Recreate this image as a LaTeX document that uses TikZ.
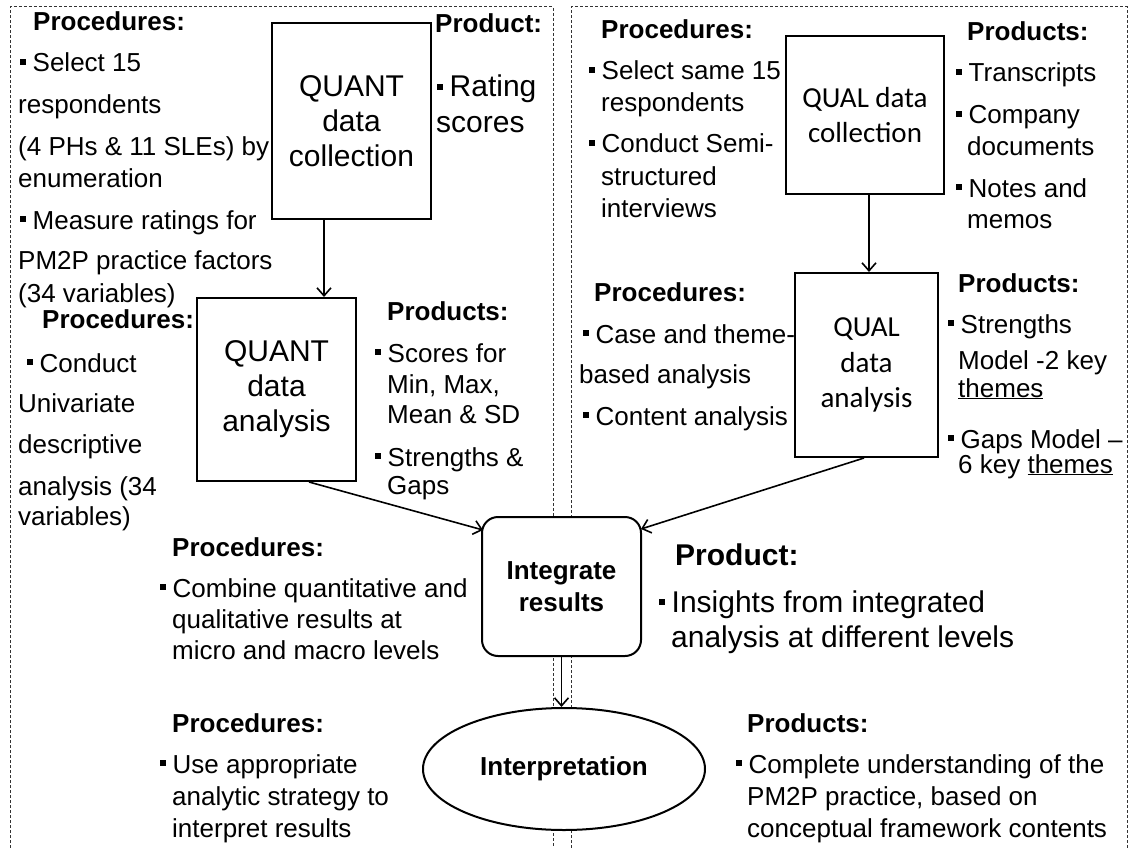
\documentclass[tikz,border=0pt]{standalone}
\usepackage{fontspec}
\setmainfont{Liberation Sans}
\newfontfamily\calfont{Carlito}
\usetikzlibrary{arrows.meta,shapes.geometric}
\newcommand\bul{\rule[7pt]{6pt}{6pt}\hspace{6.5pt}}
\tikzset{
  txt/.style={anchor=base west, inner sep=0pt, font=\fontsize{26}{30}\selectfont},
  hd/.style={txt, font=\fontsize{26}{30}\selectfont\bfseries},
  bigtxt/.style={txt, font=\fontsize{30}{35}\selectfont},
  bighd/.style={txt, font=\fontsize{30}{35}\selectfont\bfseries},
  panel/.style={draw=black!80, line width=1pt, dash pattern=on 3pt off 2pt},
  box/.style={draw, line width=2pt, fill=white, inner sep=0pt, align=center},
  quantbox/.style={box, font=\fontsize{30}{35}\selectfont},
  qualbox/.style={box, font=\calfont\fontsize{29}{35.5}\selectfont},
  arr/.style={line width=1.6pt, -{Straight Barb[length=8pt,width=14pt]}},
}
\begin{document}
\begin{tikzpicture}[x=1pt,y=-1pt]
\fill[white] (0,0) rectangle (1132,848);
\useasboundingbox (0,0) rectangle (1132,848);

% dashed panels, open at the bottom
\draw[panel] (10,848) |- (553,7) -- (553,848);
\draw[panel] (571,848) |- (1127,7) -- (1127,848);

% ---------- QUANT strand: data collection ----------
\node[hd] (pA) at (33,31) {Procedures:};
\node[txt] (a1) at (20,72) {\bul Select 15};
\node[txt] (a2) at (18,114) {respondents};
\node[txt] (a3) at (18,156) {(4 PHs \& 11 SLEs) by};
\node[txt] (a4) at (18,187) {enumeration};
\node[txt] (a5) at (20,229) {\bul Measure ratings for};
\node[txt] (a6) at (18,269) {PM2P practice factors};
\node[txt] (a7) at (18,302) {(34 variables)};

\node[quantbox, minimum width=159pt, minimum height=196pt] (qcoll) at (351.5,121) {QUANT\\data\\collection};

\node[hd] (pB) at (435,33) {Product:};
\node[bigtxt] (b1) at (437,97) {\bul Rating};
\node[bigtxt] (b2) at (436,132) {scores};

% ---------- QUANT strand: data analysis ----------
\node[hd] (pC) at (42,328) {Procedures:};
\node[txt] (c1) at (27,372) {\bul Conduct};
\node[txt] (c2) at (18,412) {Univariate};
\node[txt] (c3) at (18,453) {descriptive};
\node[txt] (c4) at (18,495) {analysis (34};
\node[txt] (c5) at (18,525) {variables)};

\node[quantbox, minimum width=159pt, minimum height=183pt] (qana) at (276.5,389.5) {QUANT\\data\\analysis};

\node[hd] (pD) at (387,320) {Products:};
\node[txt] (d1) at (375,362) {\bul Scores for};
\node[txt] (d2) at (387,393) {Min, Max,};
\node[txt] (d3) at (387,423) {Mean \& SD};
\node[txt] (d4) at (375,466) {\bul Strengths \&};
\node[txt] (d5) at (387,494) {Gaps};

% ---------- QUAL strand: data collection ----------
\node[hd] (pE) at (601,39) {Procedures:};
\node[txt] (e1) at (589,80) {\bul Select same 15};
\node[txt] (e2) at (601,112) {respondents};
\node[txt] (e3) at (589,153) {\bul Conduct Semi-};
\node[txt] (e4) at (601,185) {structured};
\node[txt] (e5) at (601,217) {interviews};

\node[qualbox, minimum width=158pt, minimum height=158pt] (qualcoll) at (865,115) {QUAL data\\collection};

\node[hd] (pF) at (967,41) {Products:};
\node[txt] (f1) at (956,82) {\bul Transcripts};
\node[txt] (f2) at (956,124) {\bul Company};
\node[txt] (f3) at (967,155) {documents};
\node[txt] (f4) at (956,197) {\bul Notes and};
\node[txt] (f5) at (967,228) {memos};

% ---------- QUAL strand: data analysis ----------
\node[hd] (pG) at (594,301) {Procedures:};
\node[txt] (g1) at (583,343) {\bul Case and theme-};
\node[txt] (g2) at (579,383) {based analysis};
\node[txt] (g3) at (583,425) {\bul Content analysis};

\node[qualbox, minimum width=143pt, minimum height=184pt] (qualana) at (866.5,365) {QUAL\\data\\analysis};

\node[hd] (pH) at (958,292) {Products:};
\node[txt] (h1) at (948,333) {\bul Strengths};
\node[txt] (h2) at (958,369) {Model -2 key};
\node[txt] (h3) at (958,397) {\underline{themes}};
\node[txt] (h4) at (948,448) {\bul Gaps Model –};
\node[txt] (h5) at (958,473) {6 key \underline{themes}};

% ---------- integration ----------
\node[hd] (pI) at (172,556) {Procedures:};
\node[txt] (i1) at (160,597) {\bul Combine quantitative and};
\node[txt] (i2) at (172,628) {qualitative results at};
\node[txt] (i3) at (172,659) {micro and macro levels};

\node[box, rounded corners=16pt, minimum width=159pt, minimum height=139pt,
      font=\fontsize{26}{32}\selectfont\bfseries] (integ) at (561.5,586.5) {Integrate\\results};

\node[bighd] (pJ) at (675,565) {Product:};
\node[bigtxt] (j1) at (659,612) {\bul Insights from integrated};
\node[bigtxt] (j2) at (671,647) {analysis at different levels};

% ---------- interpretation ----------
\node[hd] (pK) at (172,732) {Procedures:};
\node[txt] (k1) at (160,773) {\bul Use appropriate};
\node[txt] (k2) at (172,805) {analytic strategy to};
\node[txt] (k3) at (172,837) {interpret results};

\node[box, ellipse, minimum width=282pt, minimum height=122pt,
      font=\fontsize{26}{30}\selectfont\bfseries] (interp) at (564,769) {Interpretation};

\node[hd] (pL) at (747,732) {Products:};
\node[txt] (l1) at (736,773) {\bul Complete understanding of the};
\node[txt] (l2) at (747,805) {PM2P practice, based on};
\node[txt] (l3) at (747,837) {conceptual framework contents};

% ---------- connectors ----------
\draw[arr] ([xshift=-27.5pt]qcoll.south) -- ([xshift=-27.5pt]qcoll.south |- qana.north);
\draw[arr] ([xshift=4pt]qualcoll.south) -- ([xshift=4pt]qualcoll.south |- qualana.north);
\draw[arr] ([xshift=32.5pt]qana.south) -- ([xshift=2pt,yshift=-14pt]integ.north west);
\draw[arr] ([xshift=-2.5pt]qualana.south) -- ([xshift=-1pt,yshift=-13pt]integ.north east);
\draw[arr] (integ.south) -- (integ.south |- interp.north);
\end{tikzpicture}
\end{document}
